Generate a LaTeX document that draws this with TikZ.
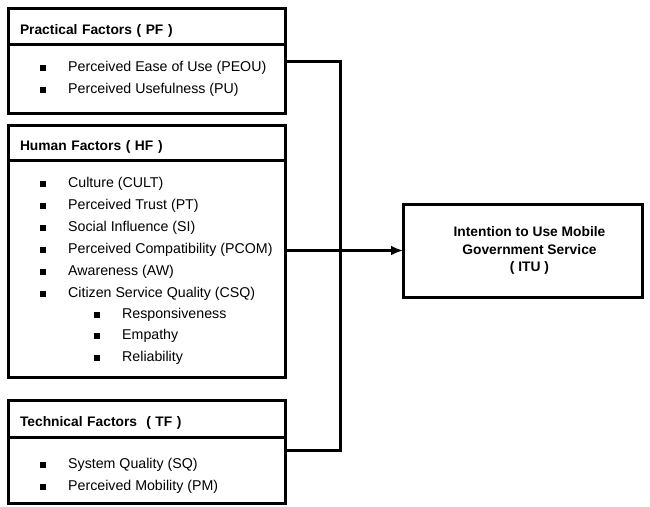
\documentclass[tikz,border=0pt]{standalone}
\usepackage{fontspec}
\setmainfont{Liberation Sans}
\usetikzlibrary{arrows.meta}
\tikzstyle{headbox} = [rectangle, anchor=north west, draw=black, line width=3pt, outer sep=0pt, minimum width=277pt, text width=253pt, text height=19pt, text depth=3pt, inner xsep=12pt, align=left, font=\bfseries\fontsize{13.8}{16}\selectfont]
\tikzstyle{bodybox} = [rectangle, anchor=north west, draw=black, line width=3pt, outer sep=0pt, minimum width=277pt]
\tikzstyle{item} = [anchor=west, inner sep=0pt, font=\fontsize{14.2}{16}\selectfont]
\tikzstyle{target} = [rectangle, anchor=north west, draw=black, line width=3pt, outer sep=0pt, minimum width=239pt, minimum height=93pt, align=center, font=\bfseries\fontsize{13.8}{17.5}\selectfont]
\tikzstyle{line} = [line width=3pt]
\tikzstyle{arrow} = [line width=3pt, -{Latex[length=12pt,width=10pt]}]
\newcommand{\sqbul}{\rule[0.6pt]{6pt}{6pt}\hspace{22pt}}

\begin{document}
\begin{tikzpicture}[x=1pt, y=-1pt]
    \useasboundingbox (0,0) rectangle (650,506);

    % practical factors
    \node (pfhead) [headbox, minimum height=36pt] at (8,8) {Practical Factors ( PF )};
    \node (pfbody) [bodybox, minimum height=69pt] at (pfhead.south west) {};
    \node (pf1) [item] at (40,68) {\sqbul Perceived Ease of Use (PEOU)};
    \node (pf2) [item] at (40,90) {\sqbul Perceived Usefulness (PU)};

    % human factors
    \node (hfhead) [headbox, minimum height=35pt] at (8,125) {Human Factors ( HF )};
    \node (hfbody) [bodybox, minimum height=217pt] at (hfhead.south west) {};
    \node (hf1) [item] at (40,184) {\sqbul Culture (CULT)};
    \node (hf2) [item] at (40,206) {\sqbul Perceived Trust (PT)};
    \node (hf3) [item] at (40,228) {\sqbul Social Influence (SI)};
    \node (hf4) [item] at (40,250) {\sqbul Perceived Compatibility (PCOM)};
    \node (hf5) [item] at (40,272) {\sqbul Awareness (AW)};
    \node (hf6) [item] at (40,294) {\sqbul Citizen Service Quality (CSQ)};
    \node (hf7) [item] at (94,315) {\sqbul Responsiveness};
    \node (hf8) [item] at (94,336) {\sqbul Empathy};
    \node (hf9) [item] at (94,358) {\sqbul Reliability};

    % technical factors
    \node (tfhead) [headbox, minimum height=37pt] at (8,400) {Technical Factors\ \ ( TF )};
    \node (tfbody) [bodybox, minimum height=66pt] at (tfhead.south west) {};
    \node (tf1) [item] at (40,465) {\sqbul System Quality (SQ)};
    \node (tf2) [item] at (40,487) {\sqbul Perceived Mobility (PM)};

    % intention to use
    \node (itu) [target] at (403,204) {\hspace*{14pt}Intention to Use Mobile\\\hspace*{14pt}Government Service\\\hspace*{14pt}( ITU )};

    \coordinate (bustop) at (340,61);
    \coordinate (busbot) at (340,450);

    \draw [line] (pfbody.east |- bustop) -- (bustop) -- (busbot) -- (tfbody.east |- busbot);
    \draw [arrow] (hfbody.east |- itu.west) -- (itu.west);
\end{tikzpicture}
\end{document}
